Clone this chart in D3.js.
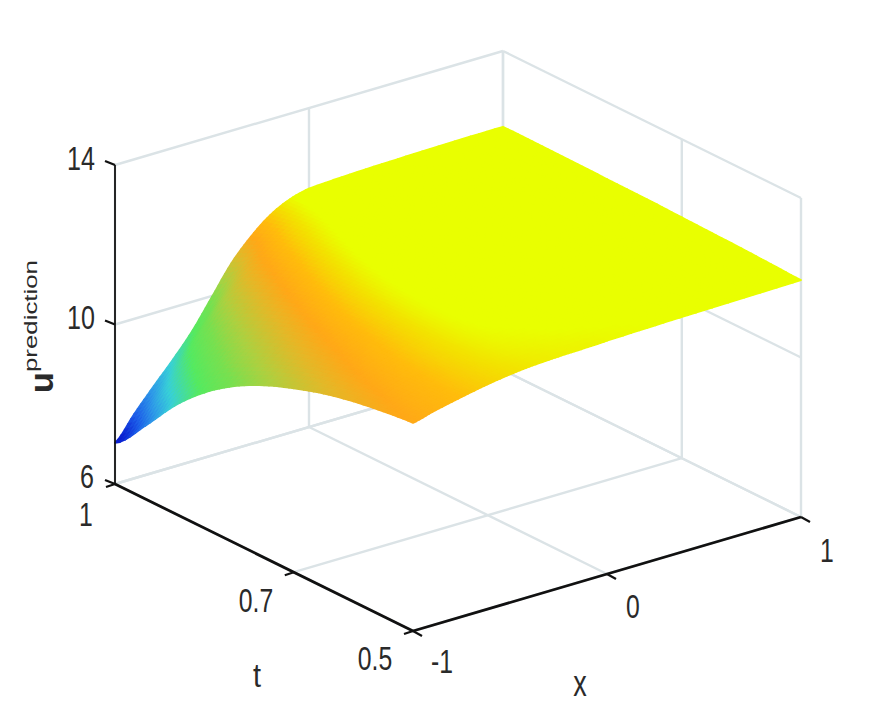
<!DOCTYPE html>
<html><head><meta charset="utf-8">
<script src="https://cdn.jsdelivr.net/npm/d3@7"></script>
<style>html,body{margin:0;background:#fff}svg{display:block}text{font-family:"Liberation Sans",Arial,sans-serif;fill:#2a2a2a}</style>
</head><body><svg id="c" width="883" height="707"></svg>
<script>
const xValues=[-1,-.9,-.8,-.7,-.6,-.5,-.4,-.3,-.2,-.1,0,.25,.5,.75,1];
const tValues=[1,.95,.9,.85,.8,.75,.7,.65,.6,.55,.5];
const uRow100=[7.03,7.62,8.17,8.7,9.28,9.98,10.68,11.2,11.6,11.85,11.98,12.04,12.07,12.09,12.1];
const uRow095=[7.82,8.45,9.05,9.7,10.3,10.78,11.18,11.5,11.74,11.9,11.98,12.03,12.07,12.09,12.1];
const uRow090=[8.7,9.25,9.85,10.35,10.78,11.14,11.44,11.68,11.85,11.95,12,12.03,12.06,12.08,12.09];
const uRow085=[9.4,9.92,10.35,10.74,11.09,11.38,11.62,11.8,11.92,11.98,12,12.03,12.06,12.07,12.08];
const uRow080=[9.93,10.33,10.7,11.02,11.31,11.55,11.74,11.87,11.95,11.99,12,12.03,12.05,12.06,12.07];
const uRow075=[10.32,10.66,10.97,11.23,11.47,11.66,11.81,11.9,11.96,11.98,12,12.02,12.03,12.05,12.06];
const uRow070=[10.61,10.9,11.15,11.37,11.56,11.72,11.84,11.91,11.95,11.97,11.98,12,12.02,12.03,12.04];
const uRow065=[10.85,11.08,11.29,11.47,11.62,11.75,11.85,11.9,11.93,11.95,11.96,11.98,12,12.01,12.02];
const uRow060=[11.02,11.21,11.38,11.53,11.66,11.76,11.84,11.88,11.9,11.92,11.93,11.95,11.97,11.98,12];
const uRow055=[11.14,11.3,11.43,11.55,11.66,11.75,11.81,11.84,11.86,11.88,11.89,11.92,11.94,11.95,11.97];
const uRow050=[11.22,11.35,11.46,11.56,11.65,11.72,11.77,11.8,11.82,11.83,11.85,11.88,11.9,11.92,11.94];
const uRows=[uRow100,uRow095,uRow090,uRow085,uRow080,uRow075,uRow070,uRow065,uRow060,uRow055,uRow050];
const xTicks=[-1,0,1], tTicks=[1,.7,.5], uTicks=[6,10,14];
const colorStops=[7.15,7.6,8.1,8.6,9.3,9.9,10.4,10.9,11.2,11.5,11.75,11.88];
const colorValues=["#0a1fd0","#1c5be8","#2f9ae8","#38d0d8","#55ea60","#78e050","#aed040","#e4b828","#ffa818","#ffbc0c","#f2e400","#e9ff00"];

const svg=d3.select("#c");
const xPx=d3.scaleLinear([-1,1],[0,388]), xPy=d3.scaleLinear([-1,1],[0,-114]);
const tPx=d3.scaleLinear([1,.5],[0,298]), tPy=d3.scaleLinear([1,.5],[0,147]);
const uPy=d3.scaleLinear([6,14],[0,-319]);
const P=(x,t,u)=>[115+xPx(x)+tPx(t),484+xPy(x)+tPy(t)+uPy(u)];
const color=d3.scaleLinear(colorStops,colorValues).clamp(true);
const line=(a,b)=>({a,b});

const grid=[];
const xMin=-1,xMax=1,tMin=.5,tMax=1,uMin=6,uMax=14;
uTicks.forEach(u=>{grid.push(line(P(xMin,tMax,u),P(xMax,tMax,u)),line(P(xMax,tMax,u),P(xMax,tMin,u)));});
xTicks.forEach(x=>{grid.push(line(P(x,tMin,uMin),P(x,tMax,uMin)),line(P(x,tMax,uMin),P(x,tMax,uMax)));});
tTicks.forEach(t=>{grid.push(line(P(xMin,t,uMin),P(xMax,t,uMin)),line(P(xMax,t,uMin),P(xMax,t,uMax)));});
svg.append("g").selectAll("line").data(grid).join("line")
 .attr("x1",d=>d.a[0]).attr("y1",d=>d.a[1]).attr("x2",d=>d.b[0]).attr("y2",d=>d.b[1])
 .attr("stroke","#dbe3e6").attr("stroke-width",2.4);

// smooth shading between the table's nodes (Catmull-Rom in table-index space)
const cr=(p0,p1,p2,p3,s)=>.5*(2*p1+(p2-p0)*s+(2*p0-5*p1+4*p2-p3)*s*s+(3*p1-p0-3*p2+p3)*s*s*s);
const nI=xValues.length,nJ=tValues.length,cl=(v,n)=>Math.max(0,Math.min(n-1,v));
const rowAt=(j,i,s)=>cr(uRows[j][cl(i-1,nI)],uRows[j][i],uRows[j][cl(i+1,nI)],uRows[j][cl(i+2,nI)],s);
const surf=(i,j,p,q)=>{
 const x=d3.interpolateNumber(xValues[i],xValues[i+1])(p), t=d3.interpolateNumber(tValues[j],tValues[j+1])(q);
 const u=cr(rowAt(cl(j-1,nJ),i,p),rowAt(j,i,p),rowAt(cl(j+1,nJ),i,p),rowAt(cl(j+2,nJ),i,p),q);
 return {x,t,u};
};
const sub=6, patches=[];
for(let j=0;j<nJ-1;j++)for(let i=nI-2;i>=0;i--)
 for(let b=0;b<sub;b++)for(let a=sub-1;a>=0;a--){
  const c=[surf(i,j,a/sub,b/sub),surf(i,j,(a+1)/sub,b/sub),surf(i,j,(a+1)/sub,(b+1)/sub),surf(i,j,a/sub,(b+1)/sub)];
  patches.push({pts:c.map(d=>P(d.x,d.t,d.u)),u:d3.mean(c,d=>d.u)});
 }
svg.append("g").selectAll("path").data(patches).join("path")
 .attr("d",d=>"M"+d.pts.join("L")+"Z")
 .attr("fill",d=>color(d.u)).attr("stroke",d=>color(d.u)).attr("stroke-width",1.8).attr("stroke-linejoin","round");

const ax=svg.append("g").attr("stroke","#111").attr("fill","none");
const seg=(a,b,w)=>ax.append("line").attr("x1",a[0]).attr("y1",a[1]).attr("x2",b[0]).attr("y2",b[1]).attr("stroke-width",w);
seg(P(xMin,tMax,uMin),P(xMin,tMax,uMax),1.8);
seg(P(xMin,tMax,uMin),P(xMin,tMin,uMin),2.8);
seg(P(xMin,tMin,uMin),P(xMax,tMin,uMin),2.8);
uTicks.forEach(u=>{const p=P(xMin,tMax,u);seg(p,[p[0]-10,p[1]-4],2.2);});
tTicks.forEach(t=>{const p=P(xMin,t,uMin);seg(p,[p[0]-9,p[1]+3],2.2);});
xTicks.forEach(x=>{const p=P(x,tMin,uMin);seg(p,[p[0]+9,p[1]+5],2.2);});

function label(s,cx,base,size,sx){
 svg.append("text").attr("transform",`translate(${cx},${base}) scale(${sx},1)`).attr("text-anchor","middle").attr("font-size",size).text(s);
}
const uPos=[[87,488],[81,329],[81,170]], tPos=[[86,526],[256,612],[375,670]], xPos=[[442,673],[633,618],[827,562]];
uTicks.forEach((u,i)=>label(String(u),uPos[i][0],uPos[i][1],33,.76));
tTicks.forEach((t,i)=>label(String(t),tPos[i][0],tPos[i][1],33,.75));
xTicks.forEach((x,i)=>label(String(x),xPos[i][0],xPos[i][1],33,.75));
label("t",257,687,34,.85);
label("x",580,696,36,.75);
svg.append("text").attr("transform","translate(53,393) rotate(-90)").attr("font-size",34).attr("font-weight","bold").text("u");
svg.append("text").attr("transform","translate(37,372) rotate(-90) scale(1.36,1)").attr("font-size",19).text("prediction");
</script></body></html>
